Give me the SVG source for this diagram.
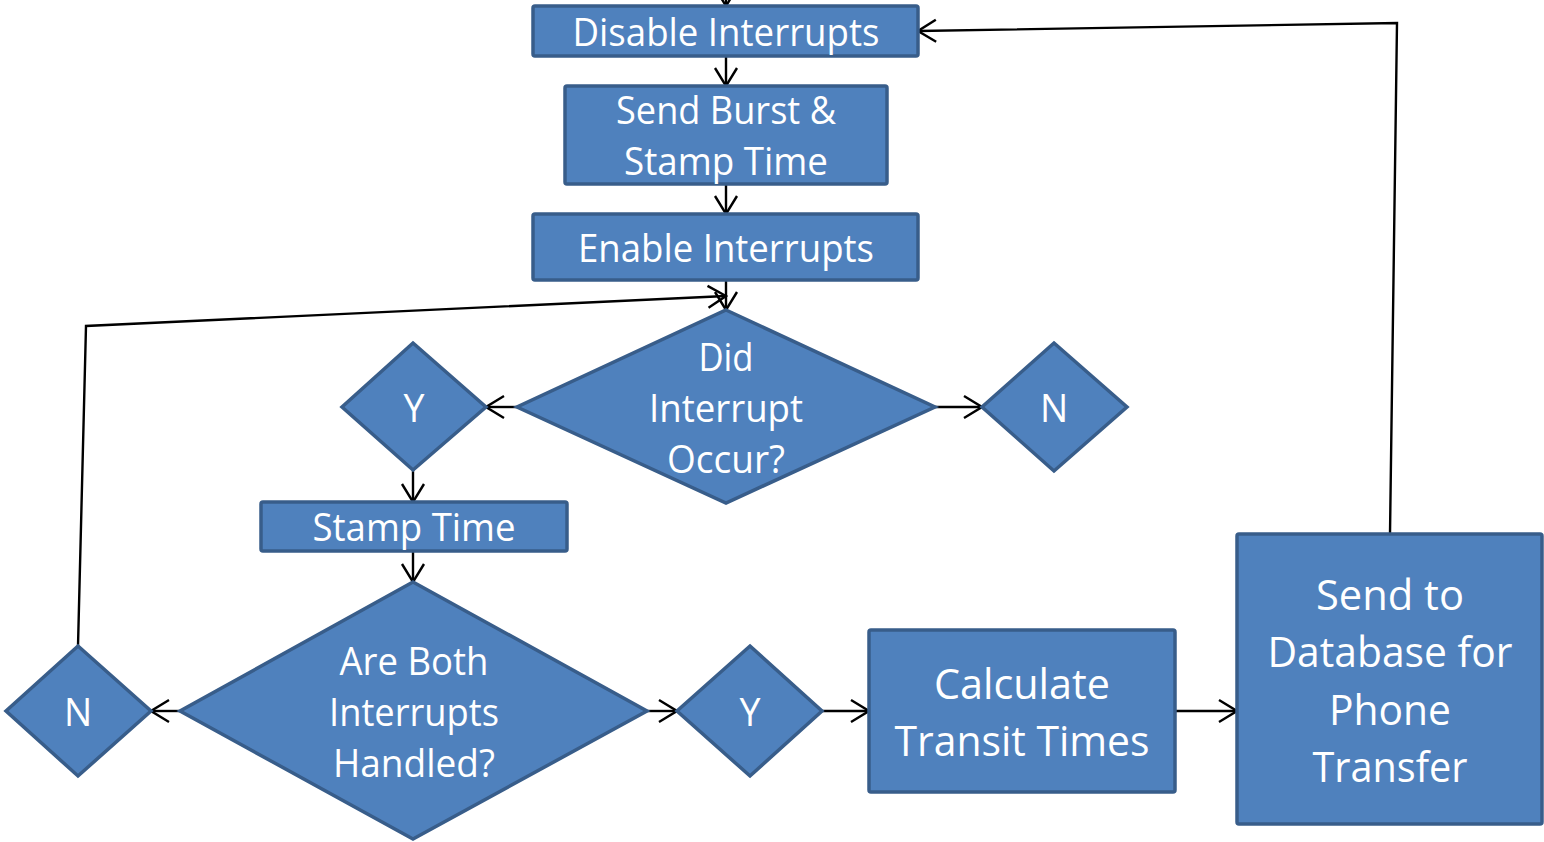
<svg xmlns="http://www.w3.org/2000/svg" width="1544" height="842" viewBox="0 0 1544 842">
<defs>
<style>
.box{fill:#4F81BD;stroke:#385D8A;stroke-width:3.5}
.t{fill:#FFFFFF;font-family:"Open Sans","Lato","Liberation Sans",sans-serif;font-size:37.5px;text-anchor:middle}
.tl{fill:#FFFFFF;font-family:"Open Sans","Lato","Liberation Sans",sans-serif;font-size:42px;text-anchor:middle}
.c{fill:none;stroke:#000000;stroke-width:2.4;marker-end:url(#ah)}
</style>
<marker id="ah" viewBox="0 0 22 26" refX="20" refY="13" markerWidth="22" markerHeight="26" markerUnits="userSpaceOnUse" orient="auto">
<path d="M2,2 L20,13 L2,24" fill="none" stroke="#000000" stroke-width="2.4"/>
</marker>
</defs>
<rect width="1544" height="842" fill="#FFFFFF"/>
<g id="connectors">
<path class="c" d="M726,-20 L726,6"/>
<path class="c" d="M726,56 L726,86"/>
<path class="c" d="M726,184 L726,214"/>
<path class="c" d="M726,280 L726,310"/>
<path class="c" d="M517,407 L486,407"/>
<path class="c" d="M935,407 L982,407"/>
<path class="c" d="M413,470 L413,502"/>
<path class="c" d="M413,551 L413,582"/>
<path class="c" d="M180,711 L151,711"/>
<path class="c" d="M78,646 L86,326 L726,296"/>
<path class="c" d="M647,711 L677,711"/>
<path class="c" d="M822,711 L869,711"/>
<path class="c" d="M1175,711 L1237,711"/>
<path class="c" d="M1390,534 L1397,23 L918,31"/>
</g>
<g id="disable">
<rect class="box" x="533" y="6" width="385" height="50" rx="2"/>
<text class="t" x="726" y="46" textLength="307" lengthAdjust="spacingAndGlyphs">Disable Interrupts</text>
</g>
<g id="sendburst">
<rect class="box" x="565" y="86" width="322" height="98" rx="2"/>
<text class="t" x="726" y="124" textLength="220" lengthAdjust="spacingAndGlyphs">Send Burst &amp;</text>
<text class="t" x="726" y="175" textLength="204" lengthAdjust="spacingAndGlyphs">Stamp Time</text>
</g>
<g id="enable">
<rect class="box" x="533" y="214" width="385" height="66" rx="2"/>
<text class="t" x="726" y="262" textLength="296" lengthAdjust="spacingAndGlyphs">Enable Interrupts</text>
</g>
<g id="didoccur">
<polygon class="box" points="726,310 935,407 726,503 517,407"/>
<text class="t" x="726" y="371" textLength="55" lengthAdjust="spacingAndGlyphs">Did</text>
<text class="t" x="726" y="422" textLength="154" lengthAdjust="spacingAndGlyphs">Interrupt</text>
<text class="t" x="726" y="473" textLength="118" lengthAdjust="spacingAndGlyphs">Occur?</text>
</g>
<g id="y1">
<polygon class="box" points="413,343 486,407 413,470 342,407"/>
<text class="t" x="414" y="422">Y</text>
</g>
<g id="n1">
<polygon class="box" points="1054,343 1127,407 1054,471 982,407"/>
<text class="t" x="1054" y="422">N</text>
</g>
<g id="stamptime">
<rect class="box" x="261" y="502" width="306" height="49" rx="2"/>
<text class="t" x="414" y="541" textLength="203" lengthAdjust="spacingAndGlyphs">Stamp Time</text>
</g>
<g id="bothhandled">
<polygon class="box" points="413,582 647,711 413,839 180,711"/>
<text class="t" x="414" y="675" textLength="149" lengthAdjust="spacingAndGlyphs">Are Both</text>
<text class="t" x="414" y="726" textLength="170" lengthAdjust="spacingAndGlyphs">Interrupts</text>
<text class="t" x="414" y="777" textLength="162" lengthAdjust="spacingAndGlyphs">Handled?</text>
</g>
<g id="n2">
<polygon class="box" points="78,646 151,711 78,776 6,711"/>
<text class="t" x="78" y="726">N</text>
</g>
<g id="y2">
<polygon class="box" points="750,646 822,711 750,776 677,711"/>
<text class="t" x="750" y="726">Y</text>
</g>
<g id="calculate">
<rect class="box" x="869" y="630" width="306" height="162" rx="2"/>
<text class="tl" x="1022" y="699" textLength="176" lengthAdjust="spacingAndGlyphs">Calculate</text>
<text class="tl" x="1022" y="756" textLength="255" lengthAdjust="spacingAndGlyphs">Transit Times</text>
</g>
<g id="senddb">
<rect class="box" x="1237" y="534" width="305" height="290" rx="2"/>
<text class="tl" x="1390" y="610" textLength="148" lengthAdjust="spacingAndGlyphs">Send to</text>
<text class="tl" x="1390" y="667" textLength="245" lengthAdjust="spacingAndGlyphs">Database for</text>
<text class="tl" x="1390" y="725" textLength="122" lengthAdjust="spacingAndGlyphs">Phone</text>
<text class="tl" x="1390" y="782" textLength="155" lengthAdjust="spacingAndGlyphs">Transfer</text>
</g>
</svg>
